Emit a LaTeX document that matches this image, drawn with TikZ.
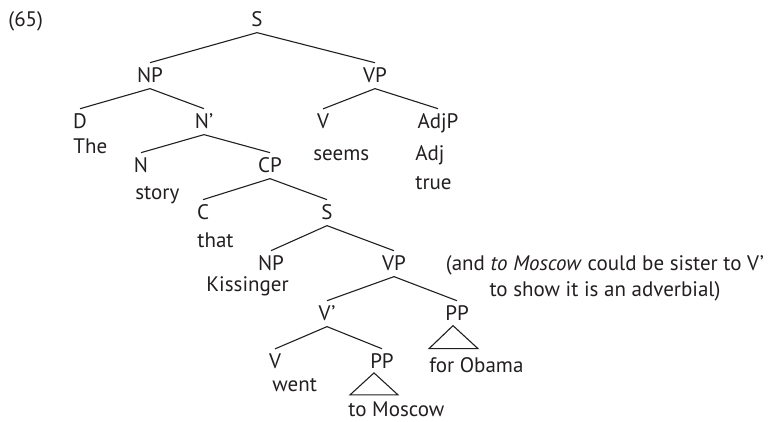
\documentclass[tikz,border=0pt]{standalone}
\usepackage{fontspec}
\setmainfont{PT Sans}
\usepackage{tikz}
\definecolor{treeink}{RGB}{35,31,32}
\tikzset{
  catnode/.style  = {anchor=base, inner xsep=1pt, inner ysep=2.5pt,
                     text=treeink, font=\fontsize{10.5}{12}\selectfont},
  wordnode/.style = {anchor=base west, inner sep=0pt,
                     text=treeink, font=\fontsize{10.5}{12}\selectfont},
  notenode/.style = {anchor=base, inner sep=0pt,
                     text=treeink, font=\fontsize{10.5}{12}\selectfont},
  branch/.style   = {draw=treeink, line width=0.55pt},
  roof/.style     = {draw=treeink, line width=0.55pt, line join=miter}
}

\begin{document}
\begin{tikzpicture}[x=0.5pt, y=-0.5pt]
\useasboundingbox (0,0) rectangle (784,422);

\node[wordnode] (exnum) at (8,27) {(65)};

% top of the tree
\node[catnode] (s)    at (257,27)  {S};
\node[catnode] (np)   at (150,83)  {NP};
\node[catnode] (vp)   at (375,83)  {VP};
\node[catnode] (d)    at (80,129)  {D};
\node[catnode] (nbar) at (204,129) {N’};
\node[catnode] (v)    at (323,129) {V};
\node[catnode] (adjp) at (438,129) {AdjP};
\node[wordnode] (the)   at (73,154)  {The};
\node[wordnode] (seems) at (313,161) {seems};
\node[wordnode] (adj)   at (415,161) {Adj};
\node[wordnode] (true)  at (415,190) {true};

% the CP complement
\node[catnode] (n)   at (141,173) {N};
\node[catnode] (cp)  at (270,173) {CP};
\node[wordnode] (story) at (135,200) {story};
\node[catnode] (c)   at (203,220) {C};
\node[catnode] (s2)  at (327,220) {S};
\node[wordnode] (that)  at (197,248) {that};
\node[catnode] (np2) at (271,271) {NP};
\node[catnode] (vp2) at (394,271) {VP};
\node[wordnode] (kiss)  at (206,292) {Kissinger};

\node[notenode] (aside1) at (605,271) {(and \textit{to Moscow} could be sister to V’};
\node[notenode] (aside2) at (605,297) {to show it is an adverbial)};

% lower VP
\node[catnode] (vbar) at (327,321) {V’};
\node[catnode] (pp2)  at (457,321) {PP};
\node[catnode] (v2)   at (275,369) {V};
\node[catnode] (pp1)  at (382,369) {PP};
\node[wordnode] (forob) at (429,373) {for Obama};
\node[wordnode] (went)  at (272,392) {went};
\node[wordnode] (tomos) at (348,417) {to Moscow};

\draw[branch] (s.south) -- (np.north);
\draw[branch] (s.south) -- (vp.north);
\draw[branch] (np.south) -- (d.north);
\draw[branch] (np.south) -- (nbar.north);
\draw[branch] (vp.south) -- (v.north);
\draw[branch] (vp.south) -- (adjp.north);
\draw[branch] (nbar.south) -- (n.north);
\draw[branch] (nbar.south) -- (cp.north);
\draw[branch] (cp.south) -- (c.north);
\draw[branch] (cp.south) -- (s2.north);
\draw[branch] (s2.south) -- (np2.north);
\draw[branch] (s2.south) -- (vp2.north);
\draw[branch] (vp2.south) -- (vbar.north);
\draw[branch] (vp2.south) -- (pp2.north);
\draw[branch] (vbar.south) -- (v2.north);
\draw[branch] (vbar.south) -- (pp1.north);

% roofs over the PPs
\draw[roof] (tomos.north west) ++(2,-7) -- ++(24,-22) -- ++(24,22) -- cycle;
\draw[roof] (forob.north west) ++(0,-9) -- ++(24,-23) -- ++(25,23) -- cycle;
\end{tikzpicture}
\end{document}
